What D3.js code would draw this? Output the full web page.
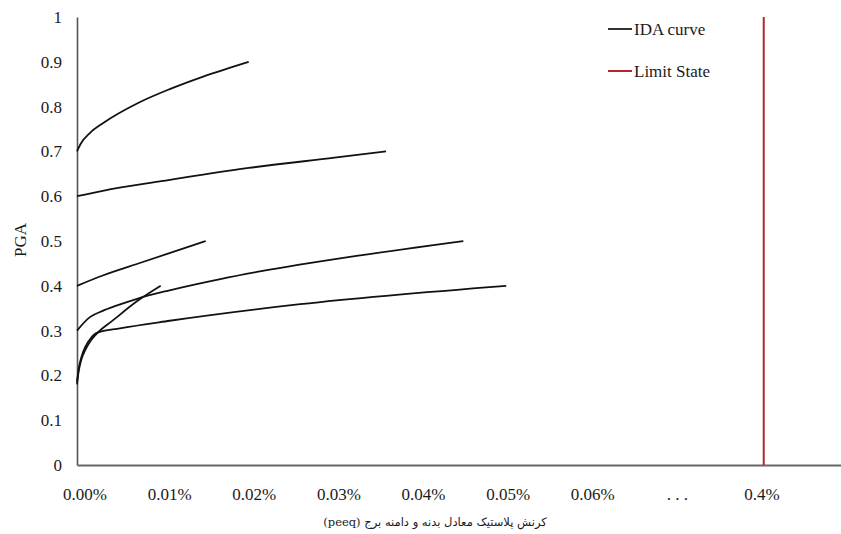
<!DOCTYPE html>
<html>
<head>
<meta charset="utf-8">
<script src="https://cdn.jsdelivr.net/npm/d3@7/dist/d3.min.js"></script>
<style>
  html, body { margin: 0; padding: 0; background: #fff; }
  svg { display: block; }
  svg text { font-family: "Liberation Serif", "DejaVu Serif", serif; fill: #1a1a1a; }
</style>
</head>
<body>
<svg id="chart" width="841" height="534"></svg>
<script>
// PGA levels and peeq values (in %, compressed axis) for each IDA curve
const curve1 = [[0, 0.70], [0.0004, 0.716], [0.0015, 0.741], [0.0031, 0.764], [0.007, 0.807], [0.0108, 0.839], [0.0147, 0.867], [0.02, 0.90]];
const curve2 = [[0, 0.60], [0.003, 0.612], [0.01, 0.634], [0.02, 0.663], [0.03, 0.686], [0.036, 0.70]];
const curve3 = [[0, 0.40], [0.003, 0.423], [0.0075, 0.452], [0.015, 0.50]];
const curve4 = [[0, 0.30], [0.0015, 0.330], [0.003, 0.344], [0.0045, 0.355], [0.007, 0.371], [0.0108, 0.390], [0.0167, 0.415], [0.0213, 0.432], [0.033, 0.468], [0.045, 0.50]];
const curve5 = [[0, 0.186], [0.0002, 0.215], [0.0005, 0.240], [0.001, 0.265], [0.0016, 0.283], [0.0023, 0.295], [0.005, 0.305], [0.0108, 0.322], [0.026, 0.359], [0.05, 0.40]];
const curve6 = [[0, 0.18], [0.0002, 0.21], [0.0005, 0.235], [0.001, 0.258], [0.0017, 0.280], [0.0025, 0.297], [0.004, 0.320], [0.0071, 0.367], [0.00975, 0.40]];
const idaCurves = [curve1, curve2, curve3, curve4, curve5, curve6];

// Limit state position on the compressed peeq axis (tick "0.4%")
const limitStatePos = 0.08;

// Tick labels
const xTickLabels = ["0.00%", "0.01%", "0.02%", "0.03%", "0.04%", "0.05%", "0.06%", ". . .", "0.4%"];
const yTickValues = [0, 0.1, 0.2, 0.3, 0.4, 0.5, 0.6, 0.7, 0.8, 0.9, 1];
const legendItems = ["IDA curve", "Limit State"];
const xTitle = "کرنش پلاستیک معادل بدنه و دامنه برج (peeq)";
const yTitle = "PGA";

const serif = "'Liberation Serif', 'DejaVu Serif', serif";
const svg = d3.select("#chart");

const x = d3.scaleLinear().domain([0, 0.089]).range([77, 841]);
const y = d3.scaleLinear().domain([0, 1]).range([465, 17]);
// label slots along the bottom axis
const xLabel = d3.scaleLinear().domain([0, xTickLabels.length - 1]).range([85, 762]);

// y axis
const yAxis = d3.axisLeft(y).tickValues(yTickValues).tickSize(0).tickPadding(15)
  .tickFormat(d => d === 0 ? "0" : d === 1 ? "1" : d3.format(".1f")(d));
const gy = svg.append("g").attr("transform", `translate(${x(0)},0)`).call(yAxis)
  .attr("font-family", serif);
gy.select(".domain").attr("stroke", "#555").attr("stroke-width", 1.6);
gy.selectAll("text").style("font-family", serif).style("font-size", "17px").attr("fill", "#1a1a1a");

// x axis line
const xAxis = d3.axisBottom(x).tickValues([]).tickSizeOuter(0);
const gx = svg.append("g").attr("transform", `translate(0,${y(0)})`).call(xAxis);
gx.select(".domain").attr("stroke", "#666").attr("stroke-width", 2);

// x tick labels
svg.append("g").selectAll("text").data(xTickLabels).join("text")
  .attr("x", (d, i) => xLabel(i))
  .attr("y", 500)
  .attr("text-anchor", "middle")
  .style("font-family", serif)
  .style("font-size", "17px")
  .text(d => d);

// IDA curves
const line = d3.line().x(d => x(d[0])).y(d => y(d[1])).curve(d3.curveMonotoneX);
svg.append("g").selectAll("path").data(idaCurves).join("path")
  .attr("d", line)
  .attr("fill", "none")
  .attr("stroke", "#111")
  .attr("stroke-width", 1.8);

// limit state
svg.append("line")
  .attr("x1", x(limitStatePos)).attr("x2", x(limitStatePos))
  .attr("y1", y(1)).attr("y2", y(0))
  .attr("stroke", "#b3262b").attr("stroke-width", 2);

// legend
const legendColors = ["#333", "#b3262b"];
const lg = svg.append("g").selectAll("g").data(legendItems).join("g")
  .attr("transform", (d, i) => `translate(608,${29 + i * 42})`);
lg.append("line").attr("x1", 0).attr("x2", 24).attr("y1", 0).attr("y2", 0)
  .attr("stroke", (d, i) => legendColors[i]).attr("stroke-width", 2);
lg.append("text").attr("x", 26).attr("y", 6)
  .style("font-family", serif).style("font-size", "17px").text(d => d);

// axis titles
svg.append("text")
  .attr("transform", "translate(26,240) rotate(-90)")
  .attr("text-anchor", "middle")
  .style("font-family", serif)
  .style("font-size", "17px")
  .text(yTitle);

svg.append("text")
  .attr("x", 435).attr("y", 526)
  .attr("text-anchor", "middle")
  .attr("direction", "rtl")
  .style("font-family", "'DejaVu Serif', 'DejaVu Sans', serif")
  .style("font-size", "11.5px")
  .text(xTitle);
</script>
</body>
</html>
